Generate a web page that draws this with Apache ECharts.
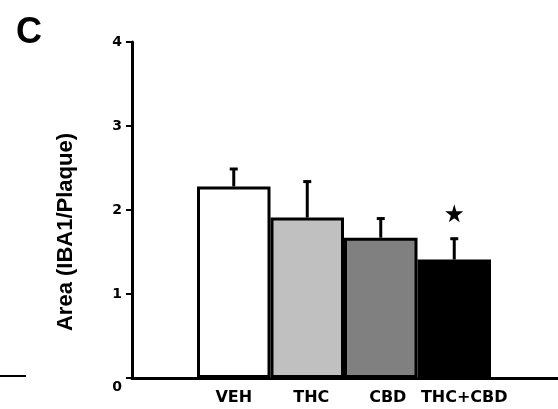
<!DOCTYPE html>
<html>
<head>
<meta charset="utf-8">
<script src="https://cdn.jsdelivr.net/npm/echarts@6/dist/echarts.min.js"></script>
<style>html,body{margin:0;padding:0;background:#fff}#c{width:558px;height:409px}</style>
</head>
<body>
<div id="c"></div>
<script>
var categories = ['VEH', 'THC', 'CBD', 'THC+CBD'];
var means = [2.28, 1.91, 1.67, 1.41];
var errUpper = [2.50, 2.35, 1.91, 1.67];
var barColors = ['#ffffff', '#c0c0c0', '#808080', '#000000'];
var starCategory = 'THC+CBD';
var starValue = 1.96;
var yTicks = [0, 1, 2, 3, 4];

var chart = echarts.init(document.getElementById('c'), null, {renderer: 'canvas'});
var starPath = 'path://M50,0 L61,35 L98,35 L68,57 L79,91 L50,70 L21,91 L32,57 L2,35 L39,35 Z';
var tickFont = {fontFamily: 'DejaVu Sans', fontWeight: 'bold', fontSize: 14, color: '#000'};
var catFont = {fontFamily: 'DejaVu Sans', fontWeight: 'bold', fontSize: 16, color: '#000'};

var option = {
  animation: false,
  backgroundColor: '#fff',
  title: {
    text: 'C', left: 11, top: 10,
    textStyle: {fontFamily: 'Liberation Sans, Arial', fontWeight: 'bold', fontSize: 36, color: '#000'}
  },
  graphic: [
    {type: 'text', x: 66, y: 232, rotation: Math.PI / 2,
     style: {text: 'Area (IBA1/Plaque)', fontFamily: 'Liberation Sans, Arial', fontWeight: 'bold', fontSize: 22,
             fill: '#000', align: 'center', verticalAlign: 'middle'}},
    {type: 'line', shape: {x1: 0, y1: 376, x2: 26, y2: 376}, style: {stroke: '#000', lineWidth: 2}}
  ],
  grid: [
    {left: 132, right: 0, top: 42, bottom: 31},
    {left: 197, width: 294, top: 42, bottom: 31}
  ],
  xAxis: [
    {type: 'value', gridIndex: 0, min: 0, max: 1,
     axisLine: {show: true, onZero: false, lineStyle: {color: '#000', width: 3}},
     axisTick: {show: false}, axisLabel: {show: false}, splitLine: {show: false}},
    {type: 'category', gridIndex: 1, data: categories,
     axisLine: {show: false}, axisTick: {show: false}, splitLine: {show: false},
     axisLabel: {
       interval: 0, margin: 12, color: '#000', fontFamily: 'DejaVu Sans', fontWeight: 'bold', fontSize: 16,
       formatter: function (v, i) { return '{c' + i + '|' + v + '}'; },
       rich: {
         c0: Object.assign({padding: [0, 0, 0, 0]}, catFont),
         c1: Object.assign({padding: [0, 0, 0, 8]}, catFont),
         c2: Object.assign({padding: [0, 0, 0, 14]}, catFont),
         c3: Object.assign({padding: [0, 0, 0, 20]}, catFont)
       }
     }}
  ],
  yAxis: [
    {type: 'value', gridIndex: 0, min: yTicks[0], max: yTicks[yTicks.length - 1], interval: 1,
     axisLine: {show: true, lineStyle: {color: '#000', width: 3}},
     axisTick: {show: true, inside: false, length: 6, lineStyle: {color: '#000', width: 2}},
     splitLine: {show: false},
     axisLabel: {
       margin: 10, color: '#000', fontFamily: 'DejaVu Sans', fontWeight: 'bold', fontSize: 14,
       formatter: function (v) { return v === 0 ? '{z|0}' : '{n|' + v + '}'; },
       rich: {
         z: Object.assign({padding: [18, 0, 0, 0]}, tickFont),
         n: Object.assign({}, tickFont)
       }
     }},
    {type: 'value', gridIndex: 1, min: yTicks[0], max: yTicks[yTicks.length - 1], interval: 1, show: false}
  ],
  series: [
    {type: 'bar', xAxisIndex: 1, yAxisIndex: 1, barCategoryGap: '0%', z: 2,
     data: means.map(function (m, i) {
       return {value: m, itemStyle: {color: barColors[i], borderColor: '#000', borderWidth: 3}};
     })},
    {type: 'custom', xAxisIndex: 1, yAxisIndex: 1, z: 3,
     data: means.map(function (m, i) { return [i, m, errUpper[i]]; }),
     renderItem: function (params, api) {
       var base = api.coord([api.value(0), api.value(1)]);
       var top = api.coord([api.value(0), api.value(2)]);
       var st = {stroke: '#000', lineWidth: 3};
       return {type: 'group', children: [
         {type: 'line', shape: {x1: base[0], y1: base[1], x2: top[0], y2: top[1]}, style: st},
         {type: 'line', shape: {x1: top[0] - 4, y1: top[1] + 1, x2: top[0] + 4, y2: top[1] + 1}, style: st}
       ]};
     }},
    {type: 'scatter', xAxisIndex: 1, yAxisIndex: 1, z: 4, symbol: starPath, symbolSize: 18,
     itemStyle: {color: '#000', opacity: 1},
     data: [[starCategory, starValue]]}
  ]
};
chart.setOption(option);
</script>
</body>
</html>
